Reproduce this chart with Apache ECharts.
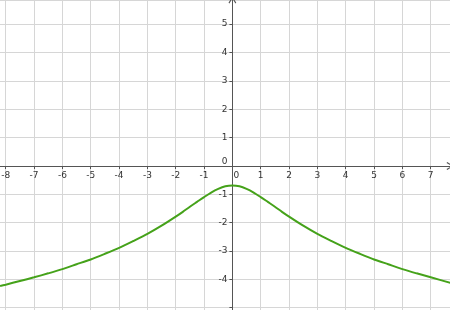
<!DOCTYPE html>
<html>
<head>
<meta charset="utf-8">
<script src="https://cdn.jsdelivr.net/npm/echarts@6/dist/echarts.min.js"></script>
<style>html,body{margin:0;padding:0;background:#fff}#c{width:450px;height:310px}</style>
</head>
<body>
<div id="c"></div>
<script>
var xValues = [-8.2, -8, -7.5, -7, -6.5, -6, -5.5, -5, -4.5, -4, -3.5, -3, -2.5, -2, -1.75, -1.5, -1.25, -1, -0.75, -0.5, -0.25, 0, 0.25, 0.5, 0.75, 1, 1.25, 1.5, 1.75, 2, 2.5, 3, 3.5, 4, 4.5, 5, 5.5, 6, 6.5, 7, 7.7];
var yValues = [-4.24, -4.19, -4.06, -3.93, -3.79, -3.64, -3.47, -3.30, -3.10, -2.89, -2.65, -2.40, -2.11, -1.79, -1.62, -1.44, -1.27, -1.10, -0.94, -0.81, -0.72, -0.69, -0.72, -0.81, -0.94, -1.10, -1.27, -1.44, -1.62, -1.79, -2.11, -2.40, -2.65, -2.89, -3.10, -3.30, -3.47, -3.64, -3.79, -3.93, -4.13];
var xTickLabels = ['-8', '-7', '-6', '-5', '-4', '-3', '-2', '-1', '0', '1', '2', '3', '4', '5', '6', '7'];
var yTickLabels = ['-4', '-3', '-2', '-1', '0', '1', '2', '3', '4', '5'];

var chart = echarts.init(document.getElementById('c'), null, {renderer: 'canvas'});
var arrowPath = 'path://M5,0 L10,8 L8.8,9 L5,2.6 L1.2,9 L0,8 Z';
function fmt(list) {
  return function (v) {
    var r = Math.round(v);
    if (Math.abs(v - r) > 1e-6) return '';
    var s = String(r);
    if (list.indexOf(s) < 0) return '';
    return r === 0 ? '{z|0}' : s;
  };
}
var data = xValues.map(function (x, i) { return [x, yValues[i]]; });
chart.setOption({
  animation: false,
  backgroundColor: '#ffffff',
  grid: {left: -22.6, right: 0, top: 0, bottom: -26, containLabel: false, outerBoundsMode: 'none'},
  xAxis: {
    type: 'value', min: -9, max: 7.68, interval: 1, position: 'bottom', offset: -170,
    axisLine: {onZero: false, lineStyle: {color: '#555', width: 1}, symbol: ['none', arrowPath], symbolSize: [9, 7], symbolOffset: [0, 0]},
    axisTick: {show: true, length: 3, lineStyle: {color: '#555'}},
    axisLabel: {formatter: fmt(xTickLabels), color: '#333', fontSize: 9, fontFamily: 'DejaVu Sans', margin: 5,
      showMinLabel: false, showMaxLabel: false, hideOverlap: false,
      rich: {z: {fontSize: 9, fontFamily: 'DejaVu Sans', color: '#333', padding: [0, 0, 0, 8]}}},
    splitLine: {show: true, lineStyle: {color: '#d6d6d6', width: 1}}
  },
  yAxis: {
    type: 'value', min: -6, max: 5.85, interval: 1, position: 'left', offset: -255,
    axisLine: {onZero: false, lineStyle: {color: '#555', width: 1}, symbol: ['none', arrowPath], symbolSize: [9, 7], symbolOffset: [0, 0]},
    axisTick: {show: true, length: 3, lineStyle: {color: '#555'}},
    axisLabel: {formatter: fmt(yTickLabels), color: '#333', fontSize: 9, fontFamily: 'DejaVu Sans', margin: 5,
      showMinLabel: false, showMaxLabel: false, hideOverlap: false,
      rich: {z: {fontSize: 9, fontFamily: 'DejaVu Sans', color: '#333', padding: [0, 0, 8, 0]}}},
    splitLine: {show: true, lineStyle: {color: '#d6d6d6', width: 1}}
  },
  series: [{
    type: 'line', data: data, smooth: 0.25, showSymbol: false, symbol: 'none',
    lineStyle: {color: '#45a21a', width: 2}, clip: true
  }]
});
</script>
</body>
</html>
